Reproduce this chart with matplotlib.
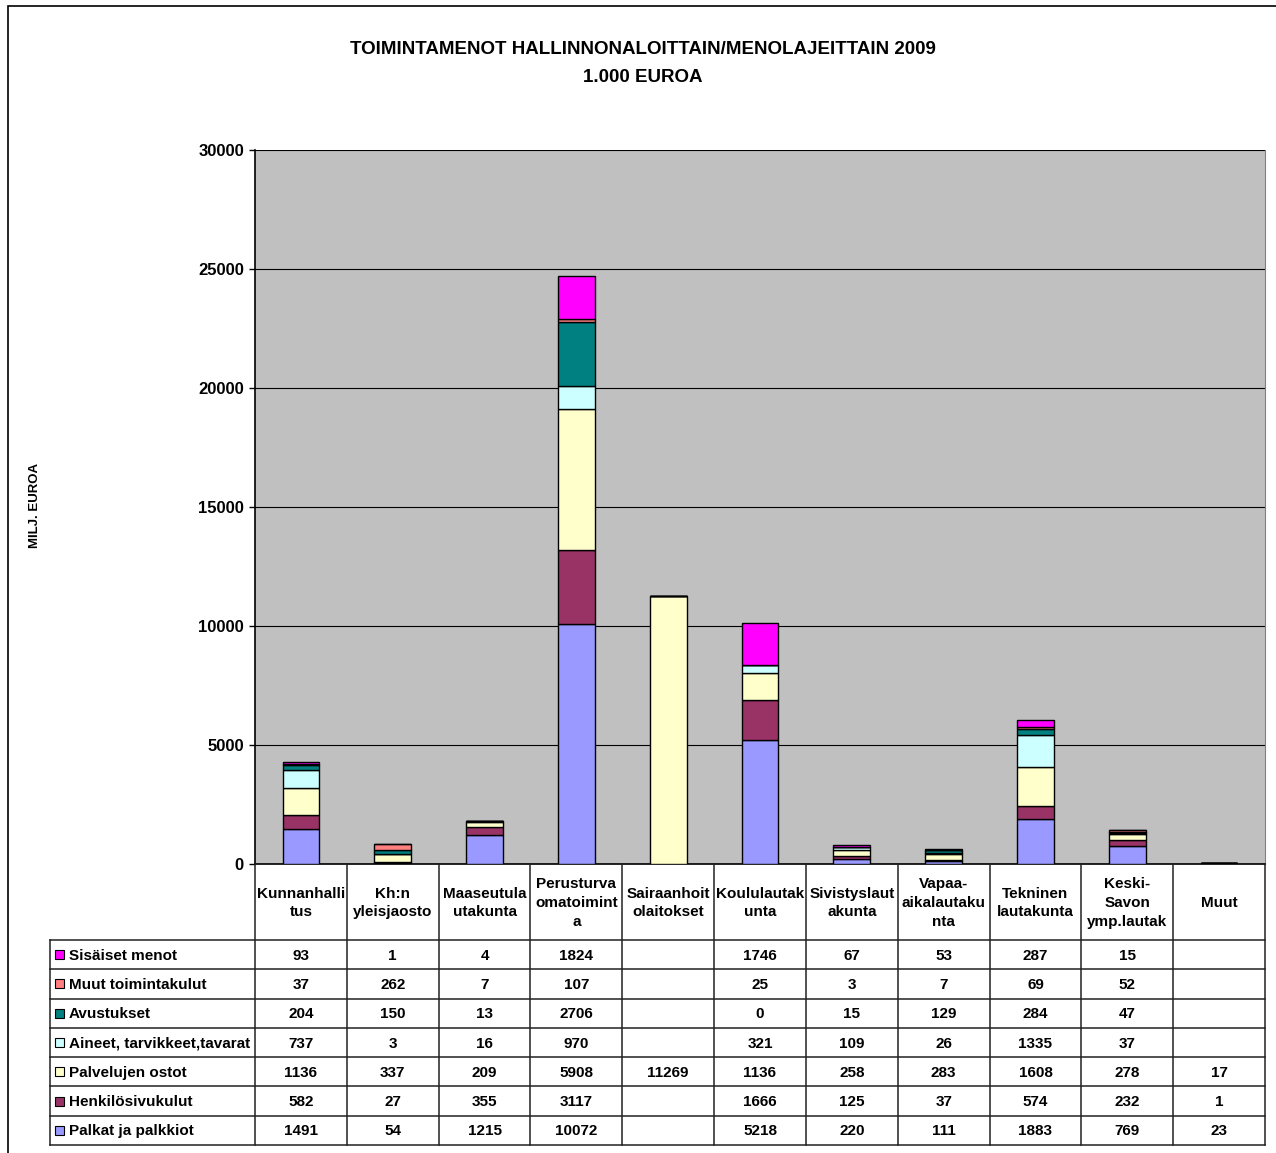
import matplotlib.pyplot as plt
import numpy as np
from matplotlib.patches import Rectangle

plt.rcParams['font.family'] = ['Liberation Sans', 'DejaVu Sans']
plt.rcParams['font.weight'] = 'bold'

# hallinnonalat
categories = ['Kunnanhalli\ntus', 'Kh:n\nyleisjaosto', 'Maaseutula\nutakunta',
              'Perusturva\nomatoimint\na', 'Sairaanhoit\nolaitokset', 'Koululautak\nunta',
              'Sivistyslaut\nakunta', 'Vapaa-\naikalautaku\nnta', 'Tekninen\nlautakunta',
              'Keski-\nSavon\nymp.lautak', 'Muut']

# menolajit (alhaalta ylös pinottuna), None = tyhjä solu
palkat = [1491, 54, 1215, 10072, None, 5218, 220, 111, 1883, 769, 23]
henkilosivu = [582, 27, 355, 3117, None, 1666, 125, 37, 574, 232, 1]
palvelut = [1136, 337, 209, 5908, 11269, 1136, 258, 283, 1608, 278, 17]
aineet = [737, 3, 16, 970, None, 321, 109, 26, 1335, 37, None]
avustukset = [204, 150, 13, 2706, None, 0, 15, 129, 284, 47, None]
muut_kulut = [37, 262, 7, 107, None, 25, 3, 7, 69, 52, None]
sisaiset = [93, 1, 4, 1824, None, 1746, 67, 53, 287, 15, None]

series = [
    ('Palkat ja palkkiot', palkat, '#9999FF'),
    ('Henkilösivukulut', henkilosivu, '#993366'),
    ('Palvelujen ostot', palvelut, '#FFFFCC'),
    ('Aineet, tarvikkeet,tavarat', aineet, '#CCFFFF'),
    ('Avustukset', avustukset, '#008080'),
    ('Muut toimintakulut', muut_kulut, '#FF8080'),
    ('Sisäiset menot', sisaiset, '#FF00FF'),
]

W, H = 1276, 1153
fig = plt.figure(figsize=(W / 100, H / 100), dpi=100)

def fx(px):
    return px / W

def fy(py):
    return 1 - py / H

# reunaviiva
fig.patches.append(Rectangle((fx(8), fy(1160)), fx(1280) - fx(8), fy(6) - fy(1160),
                             transform=fig.transFigure, fill=False, ec='black', lw=1.2))

# otsikko
fig.text(fx(643), fy(50), 'TOIMINTAMENOT HALLINNONALOITTAIN/MENOLAJEITTAIN 2009',
         ha='center', va='center', fontsize=13.5, fontweight='bold')
fig.text(fx(643), fy(78), '1.000 EUROA', ha='center', va='center',
         fontsize=13.5, fontweight='bold')
fig.text(fx(35), fy(505), 'MILJ. EUROA', rotation=90, ha='center', va='center',
         fontsize=9.5, fontweight='bold')

# pylväskuvio
pl, pr, pt, pb = 255, 1265, 150, 864
ax = fig.add_axes([fx(pl), fy(pb), fx(pr) - fx(pl), fy(pt) - fy(pb)])
ax.set_facecolor('#C0C0C0')
x = np.arange(len(categories))
bottom = np.zeros(len(categories))
for name, vals, col in series:
    v = np.array([0 if a is None else a for a in vals], dtype=float)
    ax.bar(x, v, 0.4, bottom=bottom, color=col, edgecolor='black', linewidth=1.0, zorder=3)
    bottom += v

ax.set_xlim(-0.5, len(categories) - 0.5)
ax.set_ylim(0, 30000)
ax.set_yticks(np.arange(0, 30001, 5000))
ax.yaxis.grid(True, color='black', linewidth=0.8, zorder=1)
ax.set_axisbelow(True)
ax.set_xticks([])
ax.tick_params(axis='y', length=4, width=1, labelsize=12, pad=4)
for lab in ax.get_yticklabels():
    lab.set_fontweight('bold')
ax.spines['top'].set_visible(False)
ax.spines['right'].set_color('#808080')
ax.spines['left'].set_linewidth(1.2)
ax.spines['bottom'].set_linewidth(1.2)

# datataulukko
tl, tr, tt, tb = 50, 1265, 864, 1145
tax = fig.add_axes([fx(tl), fy(tb), fx(tr) - fx(tl), fy(tt) - fy(tb)])
tax.set_xlim(tl, tr)
tax.set_ylim(tb, tt)
tax.axis('off')

col_w = (pr - pl) / len(categories)
head_bot = 940
row_h = (tb - head_bot) / len(series)
lc = '#222222'

for i in range(len(categories) + 1):
    xx = pl + i * col_w
    tax.plot([xx, xx], [tt, tb], color=lc, lw=1.1, clip_on=False)
tax.plot([tl, tl], [head_bot, tb], color=lc, lw=1.1, clip_on=False)
for j in range(len(series) + 1):
    yy = head_bot + j * row_h
    tax.plot([tl, tr], [yy, yy], color=lc, lw=1.1, clip_on=False)

for i, cat in enumerate(categories):
    tax.text(pl + (i + 0.5) * col_w, (tt + head_bot) / 2 + 1, cat, ha='center', va='center',
             fontsize=11, fontweight='bold', linespacing=1.45)

for j, (name, vals, col) in enumerate(reversed(series)):
    yc = head_bot + (j + 0.5) * row_h
    tax.add_patch(Rectangle((55, yc - 4.5), 9, 9, fc=col, ec='black', lw=0.8, clip_on=False))
    tax.text(69, yc + 1, name, ha='left', va='center', fontsize=11, fontweight='bold')
    for i, v in enumerate(vals):
        if v is not None:
            tax.text(pl + (i + 0.5) * col_w, yc + 1, str(v), ha='center', va='center',
                     fontsize=11, fontweight='bold')

plt.savefig('out.png', dpi=100)
